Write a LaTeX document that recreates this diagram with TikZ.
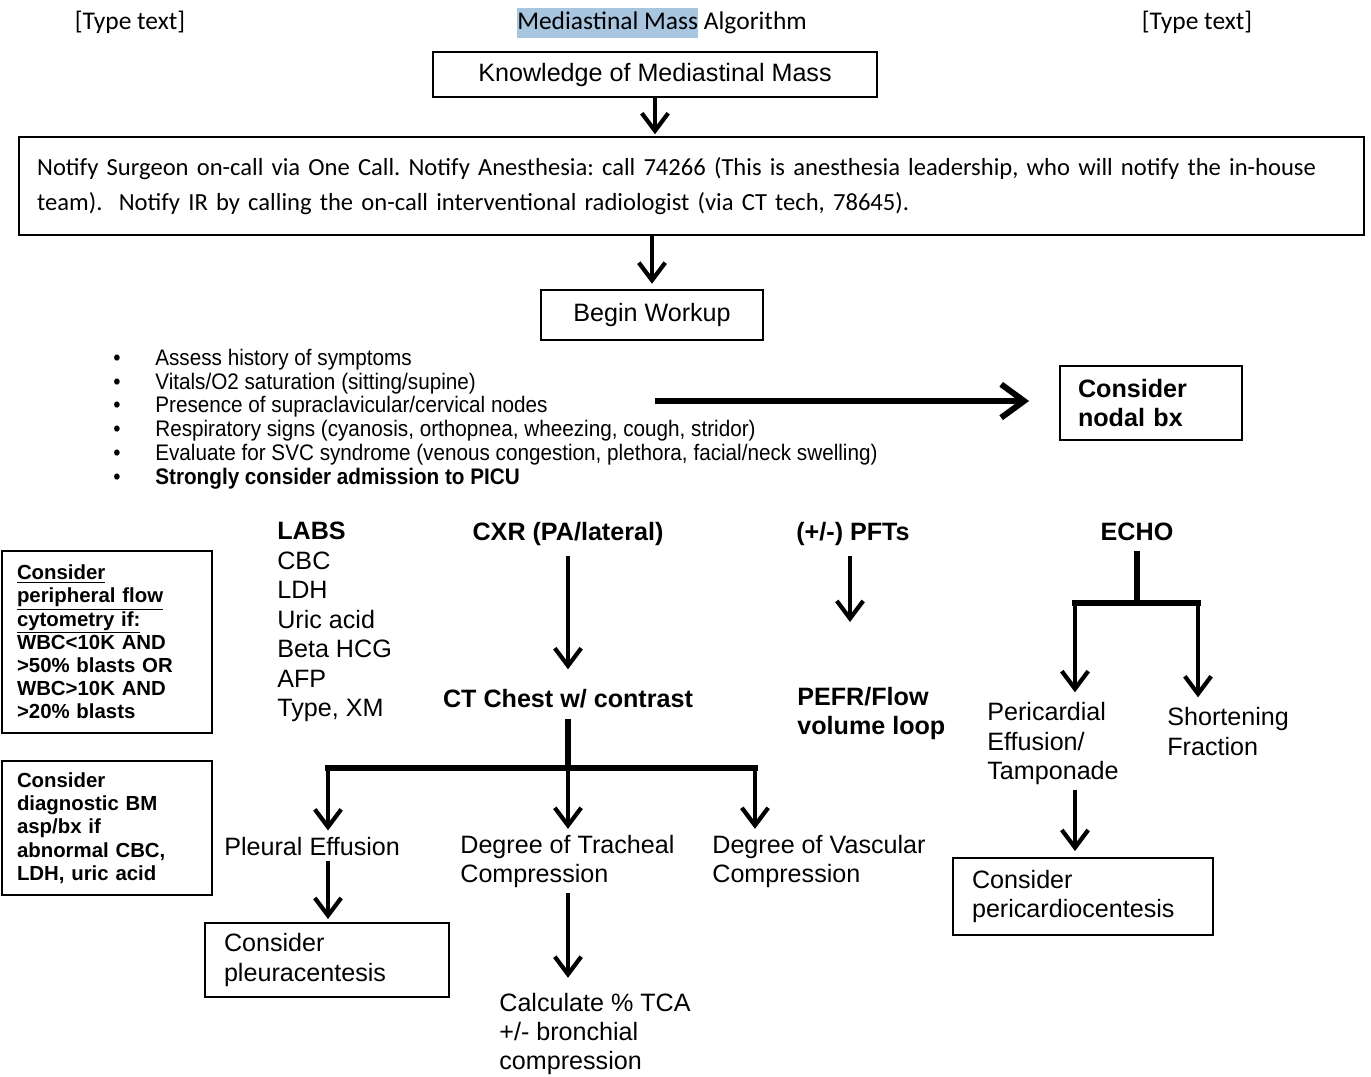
\documentclass[tikz,border=0pt]{standalone}
\usepackage{fontspec}
\setmainfont{Liberation Sans}
\newfontfamily\calibrifont{Carlito}
\newfontfamily\narrowfont[FakeStretch=0.92]{Liberation Sans}
\usepackage{tikz}
\usetikzlibrary{arrows.meta,calc}
\definecolor{hilite}{RGB}{168,198,224}
\tikzstyle{plain box}=[draw,line width=1.1pt,inner sep=0pt,align=left,font=\fontsize{14.3pt}{16.6pt}\selectfont]
\tikzstyle{bold box}=[plain box,font=\fontsize{14.3pt}{16.6pt}\selectfont\bfseries]
\tikzstyle{side box}=[plain box,text width=3.6cm,inner xsep=0.3cm,font=\fontsize{11.6pt}{13.2pt}\selectfont\bfseries]
\tikzstyle{plain text}=[inner sep=0pt,align=left,font=\fontsize{14.3pt}{16.6pt}\selectfont]
\tikzstyle{bold text}=[plain text,font=\fontsize{14.3pt}{16.6pt}\selectfont\bfseries]
\tikzstyle{head text}=[inner sep=0pt,font=\calibrifont\fontsize{14.5pt}{17pt}\selectfont]
\tikzstyle{flow arrow}=[-{Straight Barb[length=10pt,width=15pt]},line width=2.4pt]
\tikzstyle{bar}=[line width=3.4pt,line cap=rect]

\begin{document}
\frenchspacing
\begin{tikzpicture}[x=0.02cm,y=-0.02cm]
		\useasboundingbox (0,0) rectangle (1371,1076);

		\node(tl)[head text] at (130,22) {[Type text]};
		\node(tr)[head text] at (1197,22) {[Type text]};
		\node(title)[head text] at (662,23) {{\setlength{\fboxsep}{0pt}\colorbox{hilite}{\rule[-5pt]{0pt}{17pt}Mediastinal Mass}} Algorithm};

		\node(0)[plain box,align=center,minimum width=8.88cm,minimum height=0.9cm] at (655,74.5) {Knowledge of Mediastinal Mass};
		\node(1)[plain box,text width=26.18cm,inner xsep=0.36cm,minimum height=1.96cm,
		    font=\calibrifont\fontsize{14pt}{19.8pt}\selectfont] at (691.5,186)
		    {Notify Surgeon on-call via One Call. Notify Anesthesia: call 74266 (This is anesthesia leadership, who will notify the in-house\\
		     team).\ \ Notify IR by calling the on-call interventional radiologist (via CT tech, 78645).};
		\node(2)[plain box,align=center,minimum width=4.44cm,minimum height=1cm] at (652,315) {Begin Workup};

		\node(list)[inner sep=0pt,anchor=west,align=left,font=\narrowfont\fontsize{12.8pt}{13.5pt}\selectfont] at (113,419)
		    {\makebox[0.84cm][l]{\textbullet}Assess history of symptoms\\
		     \makebox[0.84cm][l]{\textbullet}Vitals/O2 saturation (sitting/supine)\\
		     \makebox[0.84cm][l]{\textbullet}Presence of supraclavicular/cervical nodes\\
		     \makebox[0.84cm][l]{\textbullet}Respiratory signs (cyanosis, orthopnea, wheezing, cough, stridor)\\
		     \makebox[0.84cm][l]{\textbullet}Evaluate for SVC syndrome (venous congestion, plethora, facial/neck swelling)\\
		     \makebox[0.84cm][l]{\textbullet}\textbf{Strongly consider admission to PICU}};
		\node(3)[bold box,text width=2.92cm,inner xsep=0.36cm,minimum height=1.48cm,font=\fontsize{14.3pt}{16.6pt}\selectfont\bfseries] at (1151,403) {Consider\\nodal bx};
		\coordinate(b) at (655,401);

		\node(side1)[side box,minimum height=3.64cm] at (107,642)
		    {\underline{Consider}\\\underline{peripheral flow}\\\underline{cytometry if:}\\WBC<10K AND\\>50\% blasts OR\\WBC>10K AND\\>20\% blasts};
		\node(side2)[side box,minimum height=2.68cm] at (107,828)
		    {Consider\\diagnostic BM\\asp/bx if\\abnormal CBC,\\LDH, uric acid};

		\node(labs)[plain text,anchor=west,font=\fontsize{14.3pt}{16.8pt}\selectfont] at (277,622) {\textbf{LABS}\\CBC\\LDH\\Uric acid\\Beta HCG\\AFP\\Type, XM};
		\node(cxr)[bold text] at (568,534) {CXR (PA/lateral)};
		\node(ct)[bold text] at (568,699) {CT Chest w/ contrast};
		\node(pfts)[bold text] at (853,534) {(+/-) PFTs};
		\node(pefr)[bold text,anchor=west] at (797,713.5) {PEFR/Flow\\volume loop};
		\node(echo)[bold text] at (1137,532) {ECHO};

		\node(pleural)[plain text,anchor=west] at (224,846) {Pleural Effusion};
		\node(trach)[plain text,anchor=west] at (460,861.5) {Degree of Tracheal\\Compression};
		\node(vasc)[plain text,anchor=west] at (712,861.5) {Degree of Vascular\\Compression};
		\node(calc)[plain text,anchor=west] at (499,1034) {Calculate \% TCA\\+/- bronchial\\compression};
		\node(4)[plain box,text width=4.12cm,inner xsep=0.38cm,minimum height=1.48cm] at (327,960) {Consider\\pleuracentesis};

		\node(peric)[plain text,anchor=west] at (987,743.5) {Pericardial\\Effusion/\\Tamponade};
		\node(short)[plain text,anchor=west] at (1167,731.5) {Shortening\\Fraction};
		\node(5)[plain box,text width=4.44cm,inner xsep=0.38cm,minimum height=1.54cm] at (1083,896.5) {Consider\\pericardiocentesis};

		\coordinate(br) at (568,768);
		\coordinate(brL) at (328,768);
		\coordinate(brR) at (755,768);
		\coordinate(pf) at (850,622);
		\coordinate(ec) at (1137,603);
		\coordinate(ecL) at (1075,603);
		\coordinate(ecR) at (1198,603);

		\draw[flow arrow,shorten >=1pt] (0.south) -- (0.south |- 1.north);
		\draw[flow arrow,shorten >=3pt] (2.north |- 1.south) -- (2.north);
		\draw[bar,-{Straight Barb[length=13pt,width=19pt]},line cap=butt,shorten >=0.6cm] (b) -- (b -| 3.west);

		\draw[flow arrow,shorten <=0.2cm,shorten >=0.4cm] (cxr.south) -- (ct.north);
		\draw[bar,line cap=butt,shorten <=0.2cm] (ct.south) -- (br);
		\draw[bar] (brL) -- (brR);
		\draw[flow arrow,shorten >=0.12cm] (brL) -- (brL |- pleural.north);
		\draw[flow arrow,shorten >=0.12cm] (br) -- (br |- trach.north);
		\draw[flow arrow,shorten >=0.12cm] (brR) -- (brR |- vasc.north);
		\draw[flow arrow,shorten <=0.1cm,shorten >=0.06cm] (brL |- pleural.south) -- (brL |- 4.north);
		\draw[flow arrow,shorten <=0.1cm,shorten >=0.3cm] (br |- trach.south) -- (br |- calc.north);

		\draw[flow arrow,shorten <=0.2cm] (pf |- pfts.south) -- (pf);

		\draw[bar,line cap=butt,shorten <=0.2cm] (echo.south) -- (ec);
		\draw[bar] (ecL) -- (ecR);
		\draw[flow arrow,shorten >=0.2cm] (ecL) -- (ecL |- peric.north);
		\draw[flow arrow,shorten >=0.2cm] (ecR) -- (ecR |- short.north);
		\draw[flow arrow,shorten <=0.1cm,shorten >=0.12cm] (ecL |- peric.south) -- (ecL |- 5.north);

\end{tikzpicture}
\end{document}
